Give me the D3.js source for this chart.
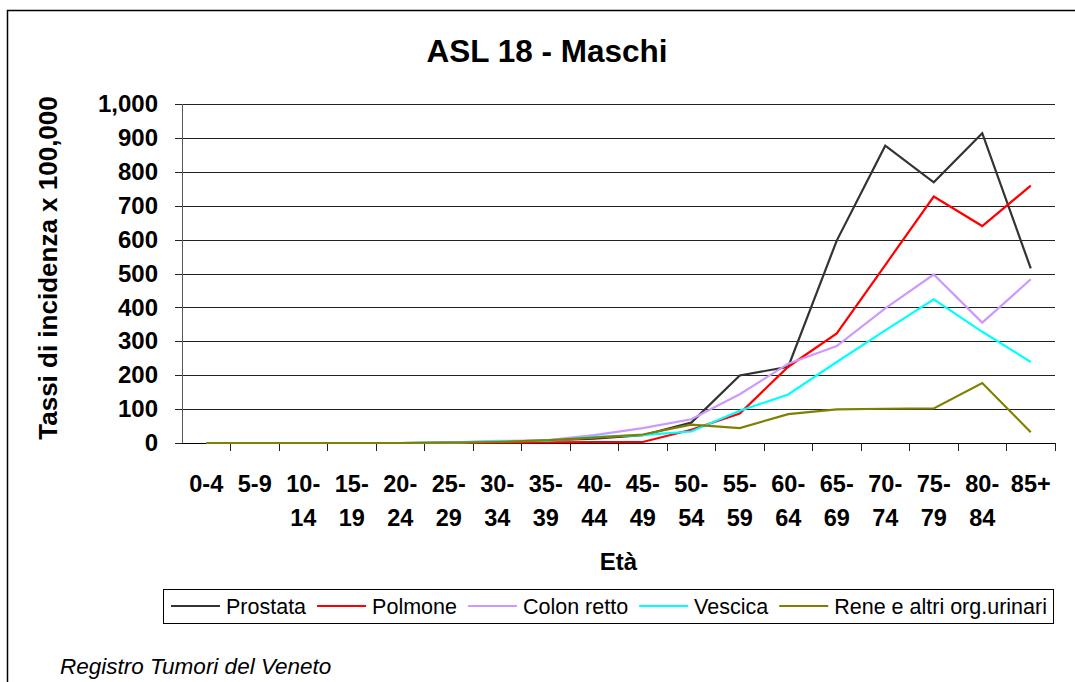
<!DOCTYPE html>
<html>
<head>
<meta charset="utf-8">
<script src="https://cdn.jsdelivr.net/npm/d3@7"></script>
<style>
  body { margin: 0; background: #fff; }
  svg { font-family: Arial, "Liberation Sans", sans-serif; }
</style>
</head>
<body>
<div id="chart"></div>
<script>
// data
var ageGroups = ['0-4','5-9','10-14','15-19','20-24','25-29','30-34','35-39','40-44',
	'45-49','50-54','55-59','60-64','65-69','70-74','75-79','80-84','85+'];
var seriesNames = ['Prostata','Polmone','Colon retto','Vescica','Rene e altri org.urinari'];
var prostata  = [0,0,0,0,0,1,3,8,13,23,60,199,225,597,877,769,914,515];
var polmone   = [0,0,0,0,0,0,1,2,3,3,39,87,225,323,525,727,640,759];
var colonRetto= [0,0,0,0,0,1,6,8,23,44,70,144,234,286,397,497,355,483];
var vescica   = [0,0,0,0,0,1,5,6,18,23,34,95,143,239,332,424,328,239];
var rene      = [0,0,0,0,0,1,3,8,16,25,54,44,85,99,101,102,177,32];
var yTicks = [0,100,200,300,400,500,600,700,800,900,1000];

var allSeries = [prostata, polmone, colonRetto, vescica, rene];
var colors = ['#333333','#ff0000','#cc99ff','#00ffff','#808000'];

var svgWidth = 1075, svgHeight = 682;
var plot = {left: 182, right: 1055, top: 104, bottom: 443};

var svg = d3.select('#chart').append('svg')
	.attr('width', svgWidth)
	.attr('height', svgHeight);

// outer frame (runs off the right and bottom)
svg.append('rect')
	.attr('x', 7.5).attr('y', 10.5)
	.attr('width', 1100).attr('height', 700)
	.attr('fill', 'none')
	.attr('stroke', '#000')
	.attr('stroke-width', 1.5);

var xScale = d3.scaleBand().domain(ageGroups).range([plot.left, plot.right]).padding(0);
var yScale = d3.scaleLinear().domain([0, 1000]).range([plot.bottom, plot.top]);
var cx = d => xScale(d) + xScale.bandwidth() / 2;

// grid lines
svg.append('g')
	.attr('transform', `translate(${plot.left},0)`)
	.call(d3.axisLeft(yScale).tickValues(yTicks).tickSize(-(plot.right - plot.left)).tickFormat(''))
	.call(g => g.select('.domain').remove())
	.call(g => g.selectAll('line').attr('stroke', '#222').attr('shape-rendering', 'crispEdges'));

// y axis
svg.append('g')
	.attr('transform', `translate(${plot.left},0)`)
	.call(d3.axisLeft(yScale).tickValues(yTicks).tickSize(7).tickPadding(17).tickFormat(d3.format(',')))
	.call(g => g.select('.domain').attr('stroke', '#555').attr('shape-rendering', 'crispEdges'))
	.call(g => g.selectAll('line').attr('stroke', '#222').attr('shape-rendering', 'crispEdges'))
	.call(g => g.selectAll('text')
		.attr('font-family', 'Arial, "Liberation Sans", sans-serif')
		.attr('font-size', 24).attr('font-weight', 'bold').attr('fill', '#000'));

// x axis line + ticks at category boundaries
svg.append('line')
	.attr('x1', plot.left).attr('x2', plot.right)
	.attr('y1', plot.bottom).attr('y2', plot.bottom)
	.attr('stroke', '#000').attr('shape-rendering', 'crispEdges');

svg.append('g').selectAll('line')
	.data(ageGroups.slice(1).concat(['end']))
	.enter().append('line')
	.attr('x1', d => d === 'end' ? plot.right : xScale(d))
	.attr('x2', d => d === 'end' ? plot.right : xScale(d))
	.attr('y1', plot.bottom).attr('y2', plot.bottom + 8)
	.attr('stroke', '#222').attr('shape-rendering', 'crispEdges');

// x labels, broken after the dash like the original
var xLabels = svg.append('g').selectAll('text')
	.data(ageGroups)
	.enter().append('text')
	.attr('text-anchor', 'middle')
	.attr('font-size', 23.5)
	.attr('font-weight', 'bold');
xLabels.each(function(d) {
	var parts = d.length > 3 ? [d.split('-')[0] + '-', d.split('-')[1]] : [d];
	var t = d3.select(this);
	parts.forEach((p, i) => {
		t.append('tspan')
			.attr('x', cx(d))
			.attr('y', 492 + i * 34)
			.text(p);
	});
});

// series lines
var line = d3.line()
	.x((v, i) => cx(ageGroups[i]))
	.y(v => yScale(v));

svg.append('g').selectAll('path')
	.data(allSeries)
	.enter().append('path')
	.attr('d', d => line(d))
	.attr('fill', 'none')
	.attr('stroke', (d, i) => colors[i])
	.attr('stroke-width', 2.2)
	.attr('stroke-linejoin', 'miter');

// titles
svg.append('text')
	.attr('x', 547).attr('y', 62)
	.attr('text-anchor', 'middle')
	.attr('font-size', 31.5).attr('font-weight', 'bold')
	.text('ASL 18 - Maschi');

svg.append('text')
	.attr('transform', `translate(57,268)rotate(-90)`)
	.attr('text-anchor', 'middle')
	.attr('font-size', 26).attr('font-weight', 'bold')
	.text('Tassi di incidenza x 100,000');

svg.append('text')
	.attr('x', (plot.left + plot.right) / 2).attr('y', 570)
	.attr('text-anchor', 'middle')
	.attr('font-size', 24).attr('font-weight', 'bold')
	.text('Età');

// legend
var legend = svg.append('g');
legend.append('rect')
	.attr('x', 163.5).attr('y', 589.5)
	.attr('width', 890).attr('height', 34)
	.attr('fill', '#fff').attr('stroke', '#000');

var lx = 171;
seriesNames.forEach((name, i) => {
	legend.append('line')
		.attr('x1', lx).attr('x2', lx + 49)
		.attr('y1', 606).attr('y2', 606)
		.attr('stroke', colors[i]).attr('stroke-width', 2.2);
	var t = legend.append('text')
		.attr('x', lx + 55).attr('y', 614)
		.attr('font-size', 21.5)
		.text(name);
	lx += 55 + t.node().getComputedTextLength() + 11;
});

svg.append('text')
	.attr('x', 60).attr('y', 674)
	.attr('font-size', 22.5).attr('font-style', 'italic')
	.text('Registro Tumori del Veneto');
</script>
</body>
</html>
